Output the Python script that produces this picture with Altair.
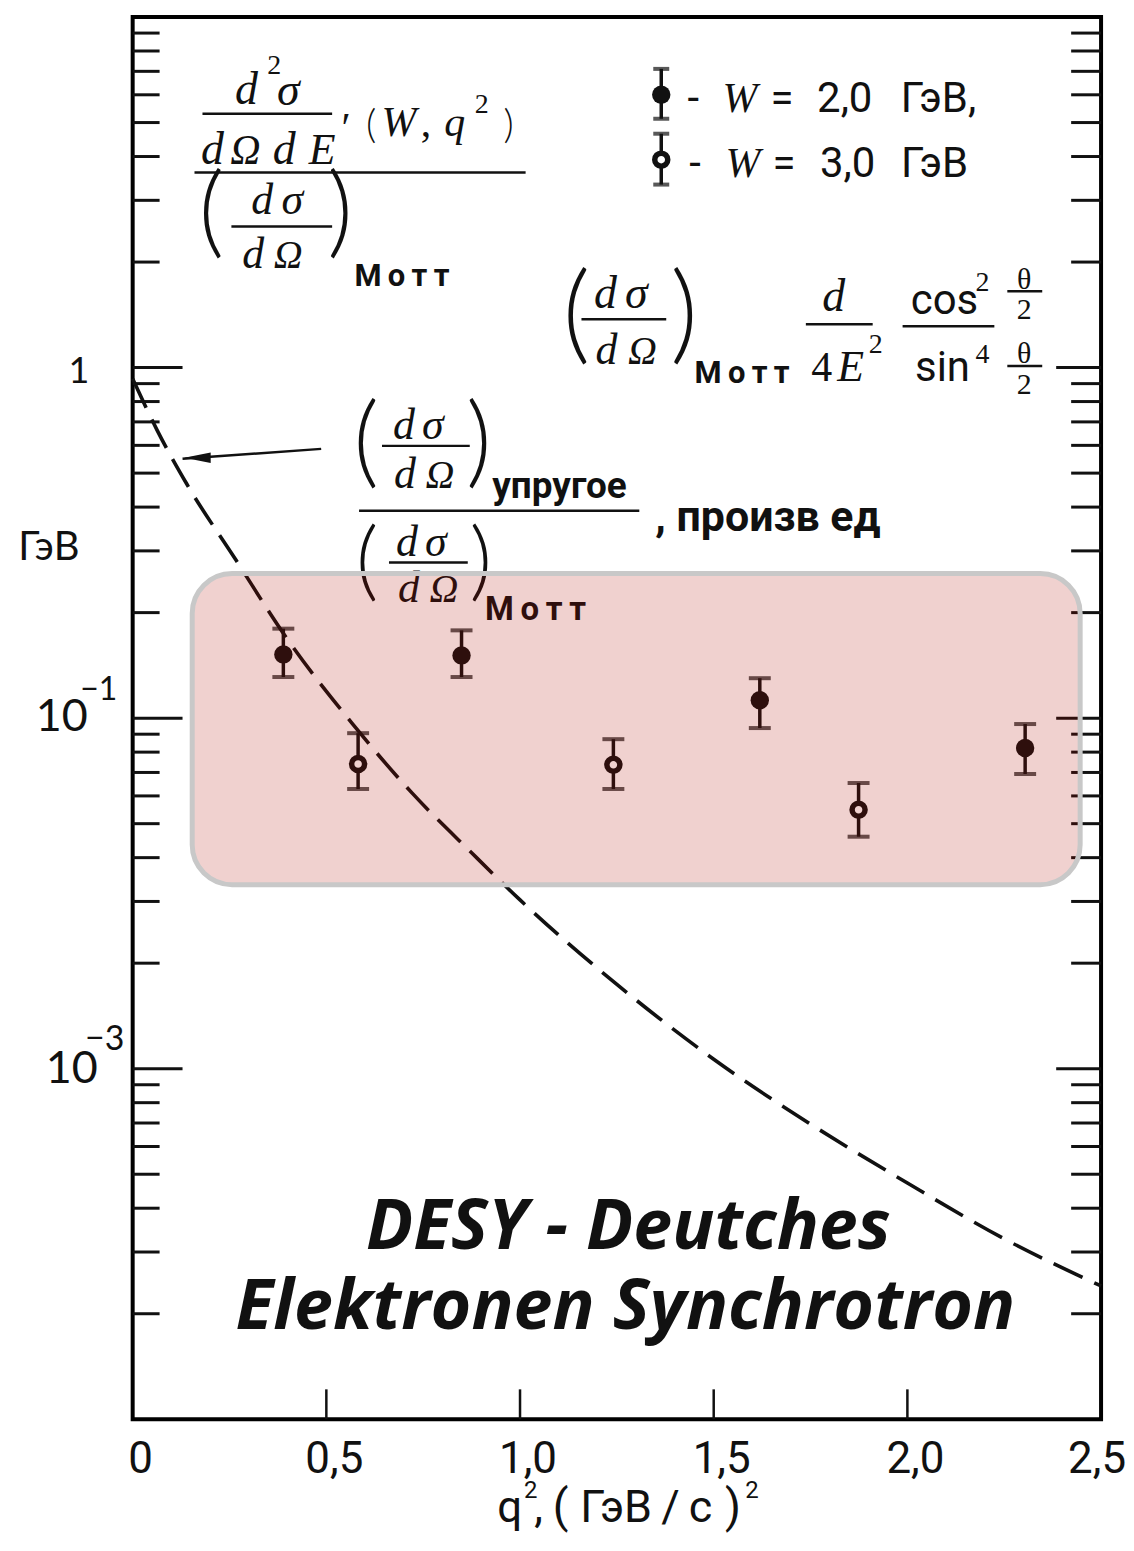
import altair as alt
import pandas as pd

# ---------------- data ----------------
# W = 2,0 GeV  (filled circles)
w2_q   = [0.389, 0.849, 1.619, 2.304]
w2_val = [0.152, 0.151, 0.1125, 0.0822]
w2_lo  = [0.131, 0.131, 0.0937, 0.0693]
w2_hi  = [0.180, 0.178, 0.130, 0.0962]
# W = 3,0 GeV  (open circles)
w3_q   = [0.582, 1.241, 1.874]
w3_val = [0.0740, 0.0736, 0.0548]
w3_lo  = [0.0628, 0.0628, 0.0459]
w3_hi  = [0.0906, 0.0871, 0.0653]
# elastic / Mott (dashed curve)
el_q   = [0.0, 0.064, 0.139, 0.268, 0.396, 0.566, 0.721, 0.875, 1.0, 1.25, 1.5, 1.75, 2.0, 2.25, 2.5]
el_val = [0.93, 0.66, 0.467, 0.281, 0.170, 0.0968, 0.0612, 0.0413, 0.0303, 0.0174, 0.01064,
          0.00695, 0.00472, 0.00327, 0.0024]
# axis ticks and their labels
x_ticks  = [0, 0.5, 1.0, 1.5, 2.0, 2.5]
x_labels = ["0", "0,5", "1,0", "1,5", "2,0", "2,5"]
y_major = [0.01, 0.1, 1]
y_minor = [k * d for d in [0.001, 0.01, 0.1, 1] for k in range(2, 10)]

# ---------------- layout helpers (pixel -> data) ----------------
W, H = 971, 1406
X0, UNIT = 133.0, 388.4
Y0, DEC = 15.0, 351.5


def q_of(px):
    return (px - X0) / UNIT


def v_of(py):
    return 10 ** (1 - (py - Y0) / DEC)


XS = alt.Scale(domain=[0, 2.5], nice=False, zero=False)
YS = alt.Scale(type="log", domain=[0.001, 10], nice=False)
INK = "#111111"
NARROW = "Roboto, Liberation Sans, sans-serif"
SERIF = "Liberation Serif, DejaVu Serif, serif"
GILL = "Lato, Open Sans, sans-serif"
WIDE = "Open Sans, Lato, sans-serif"
TS = "\u2009"  # thin space


def X(f="q"):
    return alt.X(f"{f}:Q", scale=XS, axis=None)


def Y(f="v"):
    return alt.Y(f"{f}:Q", scale=YS, axis=None)


layers = []

# dashed elastic curve
curve_df = pd.DataFrame({"q": el_q, "v": el_val})
layers.append(
    alt.Chart(curve_df).mark_line(color=INK, strokeWidth=3.6, strokeDash=[32, 13], interpolate="monotone")
    .encode(x=X(), y=Y())
)

# x tick labels through the x scale
xl_df = pd.DataFrame({"q": x_ticks, "t": x_labels})
layers.append(
    alt.Chart(xl_df.iloc[:-1]).mark_text(font=NARROW, fontSize=44, color=INK, baseline="alphabetic", dx=8)
    .encode(x=X(), y=alt.value(1475 - Y0), text="t:N")
)
layers.append(
    alt.Chart(xl_df.iloc[-1:]).mark_text(font=NARROW, fontSize=44, color=INK, baseline="alphabetic", dx=-4)
    .encode(x=X(), y=alt.value(1475 - Y0), text="t:N")
)

# inward ticks: left, right, bottom
minor_df = pd.DataFrame({"v": y_minor})
major_df = pd.DataFrame({"v": y_major})
layers.append(alt.Chart(minor_df).mark_rule(color=INK, strokeWidth=3)
              .encode(y=Y(), x=alt.value(0), x2=alt.value(27)))
layers.append(alt.Chart(major_df).mark_rule(color=INK, strokeWidth=3)
              .encode(y=Y(), x=alt.value(0), x2=alt.value(50)))
layers.append(alt.Chart(minor_df).mark_rule(color=INK, strokeWidth=3)
              .encode(y=Y(), x=alt.value(W), x2=alt.value(W - 30)))
layers.append(alt.Chart(major_df).mark_rule(color=INK, strokeWidth=3)
              .encode(y=Y(), x=alt.value(W), x2=alt.value(W - 45)))
bt_df = pd.DataFrame({"q": x_ticks[1:-1]})
layers.append(alt.Chart(bt_df).mark_rule(color=INK, strokeWidth=2.5)
              .encode(x=X(), y=alt.value(H), y2=alt.value(H - 30)))


def errpoints(df, filled, cap=22):
    out = [
        alt.Chart(df).mark_rule(color=INK, strokeWidth=3.5).encode(x=X(), y=Y("lo"), y2="hi:Q"),
        alt.Chart(df).mark_tick(orient="horizontal", color=INK, size=cap, thickness=4).encode(x=X(), y=Y("lo")),
        alt.Chart(df).mark_tick(orient="horizontal", color=INK, size=cap, thickness=4).encode(x=X(), y=Y("hi")),
    ]
    if filled:
        out.append(alt.Chart(df).mark_point(shape="circle", filled=True, color=INK, size=340, opacity=1)
                   .encode(x=X(), y=Y()))
    else:
        out.append(alt.Chart(df).mark_point(shape="circle", filled=False, fill="white", fillOpacity=1,
                                            stroke=INK, strokeWidth=5.5, size=170, opacity=1)
                   .encode(x=X(), y=Y()))
    return out


w2_df = pd.DataFrame({"q": w2_q, "v": w2_val, "lo": w2_lo, "hi": w2_hi})
w3_df = pd.DataFrame({"q": w3_q, "v": w3_val, "lo": w3_lo, "hi": w3_hi})
layers += errpoints(w2_df, True)
layers += errpoints(w3_df, False)

# legend symbols
leg2 = pd.DataFrame({"q": [q_of(663)], "v": [v_of(93)], "lo": [v_of(117)], "hi": [v_of(67)]})
leg3 = pd.DataFrame({"q": [q_of(663)], "v": [v_of(158)], "lo": [v_of(183)], "hi": [v_of(132)]})
layers += errpoints(leg2, True, cap=16)
layers += errpoints(leg3, False, cap=16)

# arrow to curve
arrow_df = pd.DataFrame({"q": [q_of(183), q_of(322)], "v": [v_of(458), v_of(448)]})
layers.append(alt.Chart(arrow_df).mark_line(color=INK, strokeWidth=2.5).encode(x=X(), y=Y()))
head_df = pd.DataFrame({"q": [q_of(198)], "v": [v_of(457)]})
layers.append(alt.Chart(head_df).mark_point(shape="M -1 0 L 1 -0.4 L 1 0.4 Z", filled=True, color=INK,
                                            size=700, opacity=1).encode(x=X(), y=Y()))


def text_layer(items, font, style="normal", weight="normal", align="center"):
    df = pd.DataFrame({"t": [i[0] for i in items],
                       "q": [q_of(i[1]) for i in items],
                       "v": [v_of(i[2]) for i in items],
                       "s": [i[3] for i in items]})
    return (alt.Chart(df).mark_text(font=font, fontStyle=style, fontWeight=weight, align=align,
                                     baseline="alphabetic", color=INK)
            .encode(x=X(), y=Y(), text="t:N", size=alt.Size("s:Q", scale=None, legend=None)))


MOTT = TS.join("Мотт")

serif_italic = [
    ("d", 247, 102, 46), ("σ", 289, 103, 46),
    ("d", 213, 162, 46), ("Ω", 246, 162, 42), ("d", 285, 162, 46), ("E", 323, 162, 44),
    ("W", 400, 134, 42), ("q", 456, 134, 42),
    ("d", 263, 213, 44), ("σ", 293, 213, 44),
    ("d", 254, 267, 44), ("Ω", 289, 267, 40),
    ("W", 742, 110, 42), ("W", 745, 175, 42),
    ("d", 607, 307, 46), ("σ", 638, 307, 46),
    ("d", 608, 363, 44), ("Ω", 644, 363, 40),
    ("d", 836, 310, 46), ("E", 853, 380, 44),
    ("d", 405, 438, 44), ("σ", 434, 438, 44),
    ("d", 406, 487, 44), ("Ω", 441, 487, 40),
    ("d", 408, 555, 44), ("σ", 437, 555, 44),
    ("d", 410, 602, 44), ("Ω", 445, 602, 40),
]
serif_upright = [
    ("2", 275, 72, 28), ("′", 347, 140, 42),
    (",", 427, 134, 42), ("2", 483, 111, 28),
    ("4", 824, 380, 42), ("2", 878, 352, 28), ("2", 985, 290, 28), ("4", 985, 362, 28),
    ("θ", 1027, 288, 30), ("2", 1027, 318, 30), ("θ", 1027, 362, 30), ("2", 1027, 393, 30),
]
parens = [
    ("(", 372, 136, 40), (")", 510, 136, 40),
    ("(", 212, 244, 100), (")", 341, 244, 100),
    ("(", 578, 349, 108), (")", 686, 349, 108),
    ("(", 367, 474, 100), (")", 480, 474, 100), ("(", 368, 590, 88), (")", 482, 590, 88),
]
narrow_regular = [
    ("-", 695, 110, 42), ("=", 784, 110, 42), ("2,0", 847, 110, 42), ("ГэВ,", 941, 110, 42),
    ("-", 697, 175, 42), ("=", 786, 175, 42), ("3,0", 850, 175, 42), ("ГэВ", 937, 175, 42),
    ("cos", 947, 313, 42), ("sin", 945, 380, 42),
    ("q", 511, 1524, 44), ("2", 532, 1500, 24), (",", 540, 1524, 44),
    ("(", 562, 1524, 46), ("ГэВ" + TS + "/" + TS + "c", 648, 1524, 45), (")", 735, 1524, 46),
    ("2", 754, 1500, 24),
]
narrow_bold = [
    (MOTT, 403, 285, 31), (MOTT, 744, 382, 31), (MOTT, 537, 620, 33),
    ("упругое", 561, 497, 37), (", произв ед", 770, 530, 43),
]
gill_regular = [
    ("1", 79, 382, 36), ("10", 62, 731, 45), ("−1", 99, 700, 32),
    ("10", 72, 1084, 45), ("−3", 105, 1051, 34), ("ГэВ", 49, 559, 40),
]
desy = [
    ("DESY - Deutches", 630, 1250, 70), ("Elektronen Synchrotron", 627, 1330, 70),
]

layers.append(text_layer(serif_italic, SERIF, style="italic"))
layers.append(text_layer(serif_upright, SERIF))
layers.append(text_layer(parens, GILL, weight=300))
layers.append(text_layer(narrow_regular, NARROW))
layers.append(text_layer(narrow_bold, NARROW, weight="bold"))
layers.append(text_layer(gill_regular, GILL))
layers.append(text_layer(desy, WIDE, style="italic", weight="bold"))

# fraction bars
frac = [(203, 333, 112), (195, 527, 171), (232, 333, 225),
        (583, 668, 318), (808, 875, 323), (905, 997, 325), (1010, 1045, 290), (1010, 1045, 365),
        (383, 471, 445), (360, 641, 510), (390, 469, 562)]
frac_df = pd.DataFrame({"q": [q_of(a) for a, b, c in frac], "q2": [q_of(b) for a, b, c in frac],
                        "v": [v_of(c) for a, b, c in frac]})
layers.append(alt.Chart(frac_df).mark_rule(color=INK, strokeWidth=2.5).encode(x=X(), x2="q2:Q", y=Y()))

# translucent highlight box
box_df = pd.DataFrame({"q": [0.1537], "q2": [2.446], "v": [0.2586], "v2": [0.0335]})
layers.append(alt.Chart(box_df).mark_rect(cornerRadius=40, fill="#b00a00", fillOpacity=0.19,
                                          stroke="#c8c8c8", strokeWidth=5, strokeOpacity=1)
              .encode(x=X(), x2="q2:Q", y=Y(), y2="v2:Q"))

chart = (
    alt.layer(*layers)
    .properties(width=W, height=H, autosize=alt.AutoSizeParams(type="none"),
                padding={"left": 125, "top": 7, "right": 25, "bottom": 117}, background="white")
    .configure_view(stroke="black", strokeWidth=4)
)

chart.save("out.html", embed_options={"renderer": "svg", "actions": False})
